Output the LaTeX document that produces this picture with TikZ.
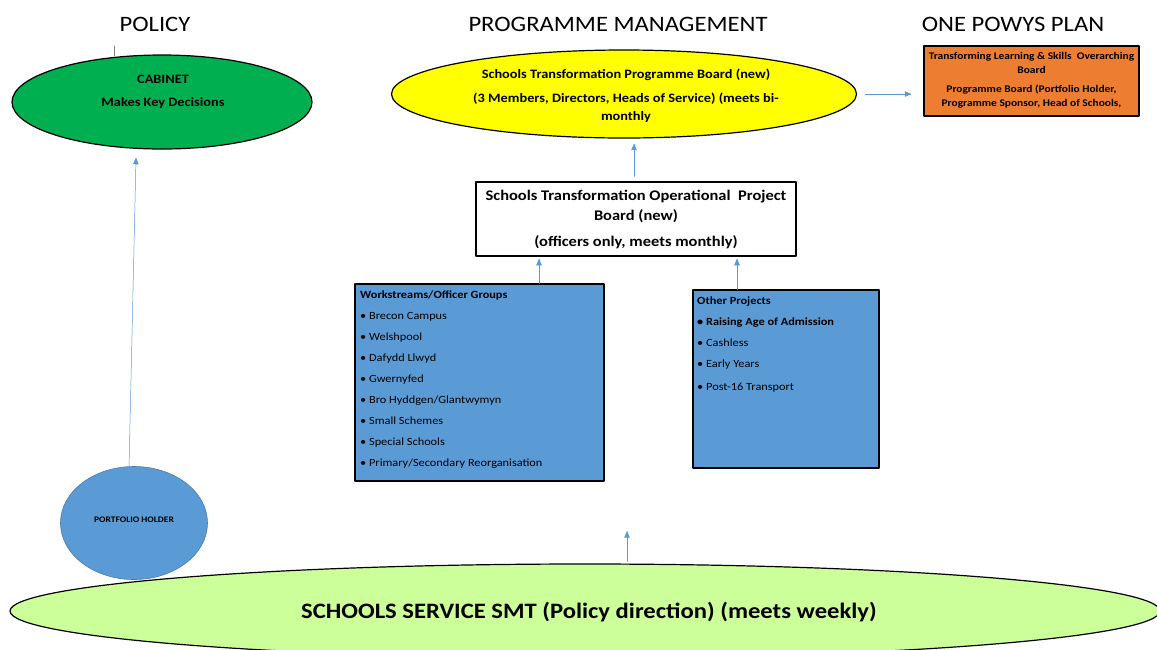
\documentclass[tikz,border=0pt]{standalone}
\usepackage{fontspec}
\setmainfont{Carlito}[FakeStretch=1.12]
\usepackage{xcolor}
\usetikzlibrary{arrows,shapes.geometric}
\definecolor{cabgreen}{HTML}{00B050}
\definecolor{progyellow}{HTML}{FFFF00}
\definecolor{powysorange}{HTML}{ED7D31}
\definecolor{wsblue}{HTML}{5B9BD5}
\definecolor{smtgreen}{HTML}{CCFF99}
\definecolor{linkblue}{HTML}{5B9BD5}
\tikzset{
  heading/.style={font=\fontsize{22}{26}\selectfont},
  bubble/.style={ellipse,draw=black,line width=1.2pt,inner sep=0pt},
  panel/.style={rectangle,draw=black,line width=1.2pt,inner sep=0pt},
  panelitems/.style={anchor=north west,align=left,inner sep=0pt},
  link/.style={->,draw=linkblue,line width=0.5pt},
}
\begin{document}
\begin{tikzpicture}[line cap=round,line join=round,>=triangle 45,x=1pt,y=-1pt]
                \useasboundingbox (0,0) rectangle (1157,649);
                % column headings
                \node[heading] (hpolicy) at (155,24) {POLICY};
                \node[heading] (hprog) at (618,24) {PROGRAMME MANAGEMENT};
                \node[heading] (hpowys) at (1013,24) {ONE POWYS PLAN};
                \draw [color=gray,line width=0.6pt] (114,46)-- (114,56);
                % ellipses
                \node[bubble,fill=smtgreen,minimum width=1150pt,minimum height=94pt] (smt) at (585,611) {};
                \node[font=\bfseries\fontsize{22}{26}\selectfont] (smttext) at (589,612) {SCHOOLS SERVICE SMT (Policy direction) (meets weekly)};
                \node[bubble,fill=cabgreen,minimum width=300pt,minimum height=94pt] (cabinet) at (162,102) {};
                \node[font=\bfseries\fontsize{12.8}{23}\selectfont,align=center] (cabtext) at (163,91.5) {CABINET\\Makes Key Decisions};
                \node[bubble,fill=progyellow,minimum width=465pt,minimum height=88pt] (progboard) at (624,94) {};
                \node[font=\bfseries\fontsize{12.8}{18}\selectfont,align=center] (progtext) at (626,95.5)
                    {Schools Transformation Programme Board (new)\\[6pt](3 Members, Directors, Heads of Service) (meets bi-\\monthly};
                \node[ellipse,draw=wsblue!80!black,line width=0.6pt,fill=wsblue,minimum width=147pt,minimum height=113pt,inner sep=0pt] (holder) at (134,523) {};
                \node[font=\bfseries\fontsize{8.5}{10}\selectfont] (holdertext) at (134,520) {PORTFOLIO HOLDER};
                % boxes
                \node[panel,fill=powysorange,minimum width=215pt,minimum height=70pt] (powys) at (1031.5,81) {};
                \node[font=\bfseries\fontsize{10.2}{14}\selectfont,align=center] (powystext) at (1031.5,80)
                    {Transforming Learning \& Skills\ \ Overarching\\Board\\[5pt]Programme Board (Portfolio Holder,\\Programme Sponsor, Head of Schools,};
                \node[panel,fill=white,minimum width=320pt,minimum height=74pt] (opboard) at (636,219) {};
                \node[font=\bfseries\fontsize{14.7}{20}\selectfont,align=center] (optext) at (636,219.5)
                    {Schools Transformation Operational\ \ Project\\Board (new)\\[6pt](officers only, meets monthly)};
                \node[panel,fill=wsblue,minimum width=249pt,minimum height=197pt] (workstreams) at (479.5,382.5) {};
                \node[panelitems,font=\fontsize{11}{21}\selectfont] (wstext) at (360,291)
                    {\textbf{Workstreams/Officer Groups}\\
                     \textbullet\ Brecon Campus\\
                     \textbullet\ Welshpool\\
                     \textbullet\ Dafydd Llwyd\\
                     \textbullet\ Gwernyfed\\
                     \textbullet\ Bro Hyddgen/Glantwymyn\\
                     \textbullet\ Small Schemes\\
                     \textbullet\ Special Schools\\
                     \textbullet\ Primary/Secondary Reorganisation};
                \node[panel,fill=wsblue,minimum width=186pt,minimum height=178pt] (otherprojects) at (786,379) {};
                \node[panelitems,font=\fontsize{11}{21}\selectfont] (optext2) at (697,297)
                    {\textbf{Other Projects}\\
                     \textbf{\textbullet\ Raising Age of Admission}\\
                     \textbullet\ Cashless\\
                     \textbullet\ Early Years\\[2pt]
                     \textbullet\ Post-16 Transport};
                % connectors
                \coordinate (smtup) at (627,531);
                \draw[link] (holder.95) -- ([xshift=-26pt,yshift=-8pt]cabinet.south);
                \draw[link,shorten <=8pt,shorten >=12pt] (progboard.east) -- (progboard.east -| powys.west);
                \draw[link,shorten <=5pt,shorten >=5pt] (opboard.north -| 634,0) -- (progboard.south -| 634,0);
                \draw[link,shorten >=2pt] ([xshift=59.5pt]workstreams.north) -- ([xshift=59.5pt]workstreams.north |- opboard.south);
                \draw[link,shorten >=2pt] ([xshift=-49pt]otherprojects.north) -- ([xshift=-49pt]otherprojects.north |- opboard.south);
                \draw[link,shorten <=2pt] (smtup |- smt.north) -- (smtup);
            \end{tikzpicture}
\end{document}
